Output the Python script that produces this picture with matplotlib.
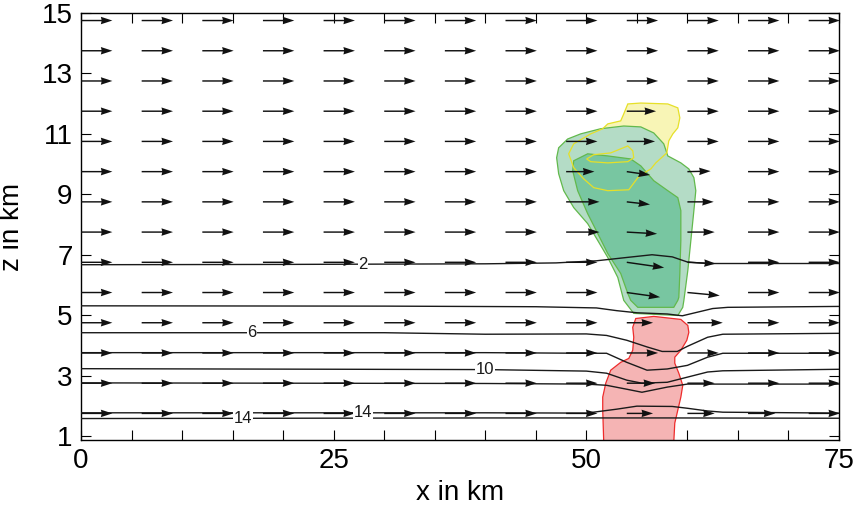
import numpy as np
import matplotlib
matplotlib.use('Agg')
import matplotlib.pyplot as plt

plt.rcParams['font.family'] = ['Liberation Sans', 'DejaVu Sans']

# wind grid (km)
x_grid = [0, 6, 12, 18, 24, 30, 36, 42, 48, 54, 60, 66, 72]
z_grid = [1.75, 2.75, 3.75, 4.75, 5.75, 6.75, 7.75, 8.75, 9.75, 10.75, 11.75, 12.75, 13.75, 14.75]
u_base = 3.1
# (x, z, u, w) arrows that differ from the background flow
wind_changes = [
    (48, 9.75, 2.8, 0.0), (54, 9.75, 2.3, -0.33), (60, 9.75, 2.3, 0.05),
    (48, 8.75, 3.3, 0.0), (54, 8.75, 2.3, -0.26), (60, 8.75, 2.6, 0.0),
    (48, 7.75, 3.3, 0.0), (54, 7.75, 3.0, -0.17), (60, 7.75, 2.7, 0.0),
    (54, 6.75, 3.7, -0.53), (60, 6.75, 2.8, -0.13),
    (54, 5.75, 3.3, -0.46), (60, 5.75, 3.2, -0.3),
    (54, 4.75, 2.6, 0.0), (60, 4.75, 3.5, 0.0),
    (54, 2.75, 2.8, 0.0), (60, 2.75, 2.7, 0.0),
    (54, 1.75, 2.6, 0.0), (60, 1.75, 2.7, 0.0), (66, 1.75, 2.7, 0.0),
    (54, 10.75, 2.8, 0.0), (54, 11.75, 2.9, 0.0),
]

# isolines
iso_x = {
    2: [0, 20, 40, 47, 51, 54, 56.5, 58.5, 60, 62, 75],
    4: [0, 30, 45, 51, 53, 55, 58, 59.5, 61, 62.5, 64, 75],
    6: [0, 30, 40, 50, 52, 54, 56, 57.5, 59, 60, 62, 63.5, 75],
    8: [0, 40, 50, 52, 54, 56, 58, 60, 62, 63.5, 75],
    10: [0, 40, 50, 52, 54, 55.5, 58, 60, 62, 63.5, 75],
    12: [0, 40, 50, 52, 54, 55.5, 58, 60, 62, 63.5, 75],
    14: [0, 40, 50, 53, 55, 58.5, 60, 62, 63.5, 75],
    16: [0, 40, 58, 75],
}
iso_z = {
    2: [6.67, 6.68, 6.70, 6.73, 6.80, 6.91, 7.0, 6.93, 6.76, 6.71, 6.71],
    4: [5.31, 5.30, 5.28, 5.24, 5.15, 5.08, 5.04, 4.98, 5.10, 5.22, 5.26, 5.29],
    6: [4.42, 4.42, 4.37, 4.38, 4.33, 4.17, 3.95, 3.80, 3.80, 3.97, 4.27, 4.37, 4.40],
    8: [3.76, 3.76, 3.74, 3.74, 3.44, 3.18, 3.22, 3.34, 3.61, 3.74, 3.74],
    10: [3.23, 3.20, 3.15, 3.08, 2.85, 2.75, 2.78, 2.95, 3.12, 3.16, 3.21],
    12: [2.76, 2.74, 2.72, 2.68, 2.55, 2.45, 2.62, 2.72, 2.72, 2.72, 2.72],
    14: [1.77, 1.77, 1.76, 1.89, 1.99, 1.98, 1.92, 1.83, 1.79, 1.76],
    16: [1.58, 1.60, 1.60, 1.59],
}
label_text = ['2', '6', '10', '14', '14']
label_x = [27.9, 16.9, 40.0, 27.9, 16.0]
label_z = [6.67, 4.42, 3.2, 1.77, 1.58]

# hydrometeor regions
rain_x = [54.89, 56.67, 59.35, 60.04, 60.14, 59.94, 59.35, 58.75, 58.75, 59.15, 59.54, 59.35,
          59.05, 58.75, 58.65, 51.72, 51.62, 51.62, 51.92, 52.41, 53.40, 54.20, 54.59, 54.69, 54.59]
rain_z = [4.89, 4.96, 4.86, 4.66, 4.43, 4.17, 3.84, 3.61, 3.41, 3.08, 2.68, 2.29,
          1.86, 1.43, 0.80, 0.80, 1.86, 2.29, 2.75, 3.18, 3.44, 3.57, 3.84, 4.27, 4.60]
cloud_x = [47.06, 47.26, 48.15, 49.44, 51.42, 53.70, 55.39, 56.67, 57.66, 58.06, 59.35, 60.14, 60.64,
           60.83, 60.64, 60.34, 60.04, 59.65, 59.54, 59.05, 54.69, 53.70, 53.11, 52.12, 51.13, 50.13,
           48.75, 47.76, 47.26]
cloud_z = [10.21, 10.54, 10.83, 11.0, 11.17, 11.26, 11.23, 11.03, 10.67, 10.27, 10.04, 9.84, 9.55,
           9.12, 8.46, 7.47, 6.48, 5.49, 5.26, 4.99, 5.06, 5.49, 6.25, 6.91, 7.47, 8.03,
           8.56, 9.12, 9.68]
core_x = [48.75, 50.13, 52.12, 54.39, 55.39, 56.67, 58.06, 59.05, 59.35, 59.35, 59.25, 59.15, 59.05,
          58.65, 55.09, 54.39, 54.10, 53.40, 52.12, 51.13, 50.13, 49.14, 48.65]
core_z = [10.11, 10.34, 10.27, 10.17, 9.94, 9.45, 9.12, 8.89, 8.46, 7.47, 6.38, 5.59, 5.49,
          5.26, 5.26, 5.49, 5.72, 6.38, 7.04, 7.70, 8.36, 9.12, 9.78]
ice_x = [54.10, 55.39, 58.06, 59.05, 59.25, 59.05, 58.56, 58.16, 57.96, 56.87, 56.38, 55.58, 55.09,
         54.20, 52.12, 50.73, 49.74, 48.75, 48.25, 48.75, 50.43, 51.62, 52.12, 53.40, 53.70]
ice_z = [11.99, 12.02, 11.99, 11.86, 11.53, 11.20, 11.0, 10.77, 10.37, 10.04, 9.84, 9.68, 9.55,
         9.15, 9.12, 9.22, 9.51, 9.88, 10.34, 10.67, 11.0, 11.17, 11.33, 11.43, 11.66]
ice_core_x = [50.03, 50.73, 52.41, 54.10, 54.59, 54.69, 54.10, 52.12, 50.43]
ice_core_z = [10.17, 10.31, 10.37, 10.60, 10.44, 10.21, 10.08, 10.04, 10.08]

fig = plt.figure(figsize=(8.63, 5.13), dpi=100)
ax = fig.add_axes([0.0939, 0.1423, 0.8783, 0.8324])

ax.fill(ice_x, ice_z, facecolor='#f8f5b6', edgecolor='none', zorder=1)
ax.fill(cloud_x, cloud_z, facecolor='#b4dcc6', edgecolor='#62b94c', lw=0.9, zorder=1.2)
ax.fill(core_x, core_z, facecolor='#78c6a1', edgecolor='#62b94c', lw=0.9, zorder=1.4)
ax.fill(ice_x, ice_z, facecolor='none', edgecolor='#e6e028', lw=0.9, zorder=1.6)
ax.fill(ice_core_x, ice_core_z, facecolor='none', edgecolor='#e6e028', lw=0.9, zorder=1.6)
ax.fill(rain_x, rain_z, facecolor='#f5b4b4', edgecolor='#ee2c2c', lw=0.9, zorder=1.8)

for lev in iso_x:
    ax.plot(iso_x[lev], iso_z[lev], color='#1a1a1a', lw=1.0, zorder=3)
for t, lx, lz in zip(label_text, label_x, label_z):
    ax.text(lx, lz, t, fontsize=12, ha='center', va='center', color='#1a1a1a', zorder=5,
            bbox=dict(facecolor='white', edgecolor='none', pad=0.5))

X, Z = np.meshgrid(x_grid, z_grid)
U = np.full(X.shape, u_base)
W = np.zeros(X.shape)
for cx, cz, cu, cw in wind_changes:
    i = z_grid.index(cz)
    j = x_grid.index(cx)
    U[i, j] = cu
    W[i, j] = cw
ax.quiver(X, Z, U, W, angles='uv', scale_units='x', scale=1, width=0.0019,
          headwidth=5.2, headlength=8, headaxislength=7.5, color='#111111', zorder=4)

ax.set_xlim(0, 75)
ax.set_ylim(0.87, 15)
ax.set_xticks(range(0, 80, 5))
ax.set_xticklabels(['0', '', '', '', '', '25', '', '', '', '', '50', '', '', '', '', '75'])
ax.set_yticks([1, 3, 5, 7, 9, 11, 13, 15])
ax.tick_params(direction='in', length=7, width=0.8, labelsize=20, top=True, right=True, pad=6)
for s in ax.spines.values():
    s.set_linewidth(1.0)
ax.set_xlabel('x in km', fontsize=20, labelpad=4)
ax.set_ylabel('z in km', fontsize=20, labelpad=12)

fig.savefig('out.png', dpi=100)
